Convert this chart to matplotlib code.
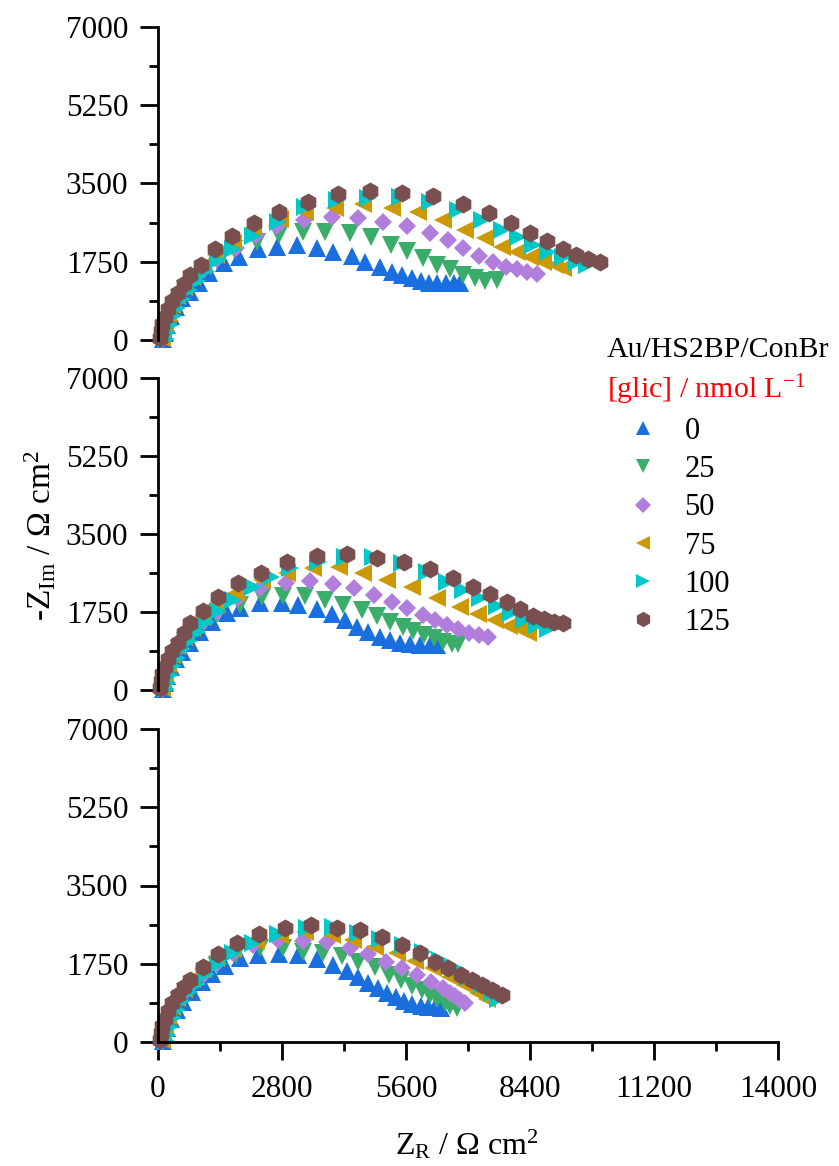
import matplotlib
matplotlib.use("Agg")
import matplotlib.pyplot as plt
from matplotlib.lines import Line2D
from matplotlib.ticker import MultipleLocator

plt.rcParams['font.family'] = ['Liberation Serif', 'DejaVu Serif']
plt.rcParams['mathtext.fontset'] = 'custom'
plt.rcParams['mathtext.rm'] = 'Liberation Serif'
plt.rcParams['mathtext.it'] = 'Liberation Serif:italic'

# Concentrations of glycated protein (nmol/L)
concentrations = ["0", "25", "50", "75", "100", "125"]

# ---------- Panel 1 (top) ----------
zr_top_0 = [120, 150, 200, 290, 400, 534, 722, 933, 1159, 1490, 1836, 2251, 2695, 3131, 3583, 3959, 4373, 4674, 5013, 5276, 5502, 5728, 5931, 6127, 6307, 6496, 6684, 6819]
zi_top_0 = [20, 150, 330, 540, 740, 932, 1081, 1283, 1491, 1715, 1849, 2036, 2088, 2125, 2051, 1976, 1879, 1752, 1640, 1528, 1454, 1380, 1320, 1283, 1268, 1268, 1268, 1268]
zr_top_25 = [110, 140, 190, 260, 350, 470, 620, 800, 1030, 1330, 1720, 2228, 2740, 3281, 3771, 4335, 4802, 5254, 5630, 5991, 6307, 6593, 6894, 7158, 7384, 7648]
zi_top_25 = [30, 170, 360, 560, 760, 950, 1140, 1340, 1560, 1800, 2030, 2199, 2349, 2423, 2423, 2386, 2297, 2125, 1998, 1827, 1678, 1581, 1454, 1380, 1327, 1342]
zr_top_50 = [100, 130, 180, 250, 340, 460, 610, 800, 1040, 1340, 1761, 2213, 2680, 3297, 3922, 4523, 5088, 5630, 6142, 6555, 6894, 7256, 7572, 7858, 8099, 8325, 8551]
zi_top_50 = [30, 170, 360, 560, 760, 950, 1150, 1360, 1580, 1810, 2051, 2349, 2550, 2684, 2758, 2722, 2647, 2550, 2386, 2237, 2051, 1879, 1752, 1640, 1581, 1528, 1476]
zr_top_75 = [90, 120, 165, 230, 320, 430, 580, 770, 1010, 1320, 1700, 2152, 2755, 3319, 3997, 4636, 5276, 5878, 6443, 6932, 7384, 7761, 8099, 8400, 8700, 8964, 9152]
zi_top_75 = [40, 190, 380, 580, 780, 980, 1190, 1410, 1650, 1900, 2160, 2500, 2700, 2870, 2946, 3042, 2946, 2870, 2684, 2461, 2275, 2088, 1976, 1864, 1752, 1678, 1603]
zr_top_100 = [180, 210, 260, 330, 420, 540, 690, 870, 1090, 1360, 1700, 2150, 2700, 3319, 4035, 4749, 5464, 6142, 6781, 7309, 7761, 8136, 8475, 8813, 9152, 9454, 9680]
zi_top_100 = [20, 160, 340, 530, 720, 910, 1110, 1320, 1540, 1780, 2040, 2330, 2640, 2980, 3132, 3170, 3206, 3094, 2908, 2684, 2461, 2297, 2125, 1976, 1864, 1752, 1678]
zr_top_125 = [50, 70, 100, 150, 220, 320, 450, 580, 722, 964, 1287, 1664, 2175, 2740, 3380, 4071, 4787, 5502, 6202, 6880, 7474, 7971, 8400, 8776, 9137, 9438, 9717, 9980]
zi_top_125 = [50, 200, 360, 520, 700, 880, 1060, 1260, 1454, 1678, 2029, 2326, 2624, 2870, 3094, 3266, 3340, 3281, 3228, 3042, 2834, 2610, 2401, 2222, 2036, 1901, 1805, 1738]

# ---------- Panel 2 (middle) ----------
zr_mid_0 = [120, 150, 200, 290, 400, 535, 722, 948, 1212, 1551, 1852, 2303, 2793, 3169, 3583, 3922, 4222, 4486, 4749, 5013, 5239, 5464, 5690, 5916, 6142, 6293]
zi_mid_0 = [20, 150, 320, 510, 690, 860, 1062, 1309, 1533, 1720, 1833, 1945, 1960, 1907, 1810, 1698, 1571, 1421, 1309, 1197, 1122, 1062, 1032, 1010, 1010, 1010]
zr_mid_25 = [110, 140, 190, 260, 350, 470, 620, 800, 1030, 1330, 1852, 2341, 2830, 3319, 3771, 4184, 4599, 4937, 5239, 5525, 5765, 6006, 6232, 6443, 6631, 6781]
zi_mid_25 = [30, 170, 350, 540, 730, 920, 1110, 1300, 1500, 1700, 1907, 2094, 2109, 2109, 2020, 1907, 1795, 1661, 1533, 1421, 1324, 1234, 1159, 1085, 1032, 1032]
zr_mid_50 = [100, 130, 180, 250, 340, 460, 610, 800, 1040, 1340, 1814, 2303, 2890, 3432, 3944, 4426, 4877, 5276, 5630, 5976, 6255, 6533, 6781, 7030, 7256, 7459]
zi_mid_50 = [30, 170, 350, 540, 740, 930, 1120, 1320, 1540, 1780, 2057, 2281, 2408, 2446, 2379, 2281, 2132, 1982, 1833, 1683, 1571, 1459, 1362, 1287, 1234, 1197]
zr_mid_75 = [90, 120, 165, 230, 320, 430, 580, 770, 1010, 1320, 1750, 2341, 2906, 3507, 4094, 4636, 5178, 5728, 6307, 6819, 7233, 7610, 7933, 8174, 8362]
zi_mid_75 = [40, 190, 380, 580, 780, 980, 1180, 1400, 1640, 1900, 2180, 2468, 2618, 2730, 2767, 2618, 2468, 2318, 2057, 1855, 1705, 1571, 1436, 1362, 1287]
zr_mid_100 = [180, 210, 260, 330, 420, 540, 690, 870, 1090, 1360, 1700, 2150, 2560, 2981, 3620, 4222, 4862, 5502, 6067, 6518, 6894, 7264, 7648, 7964, 8264, 8551, 8813]
zi_mid_100 = [20, 160, 340, 530, 720, 910, 1110, 1310, 1530, 1770, 2020, 2300, 2540, 2730, 2879, 2977, 2977, 2842, 2655, 2431, 2244, 2057, 1885, 1720, 1571, 1459, 1362]
zr_mid_125 = [50, 70, 100, 150, 220, 320, 450, 580, 722, 1009, 1362, 1814, 2318, 2920, 3597, 4275, 4952, 5555, 6142, 6654, 7106, 7497, 7873, 8174, 8460, 8716, 8942, 9152]
zi_mid_125 = [50, 200, 360, 520, 700, 880, 1060, 1270, 1496, 1780, 2094, 2393, 2633, 2879, 3007, 3052, 2955, 2879, 2708, 2506, 2318, 2154, 1982, 1810, 1661, 1586, 1533, 1496]

# ---------- Panel 3 (bottom) ----------
zr_bot_0 = [120, 150, 200, 290, 421, 572, 760, 986, 1212, 1513, 1852, 2265, 2740, 3169, 3583, 3944, 4260, 4523, 4749, 4975, 5178, 5374, 5555, 5743, 5931, 6104, 6255, 6380]
zi_bot_0 = [20, 150, 320, 510, 716, 902, 1126, 1349, 1521, 1700, 1872, 1946, 1969, 1946, 1849, 1722, 1595, 1461, 1312, 1200, 1089, 999, 924, 860, 815, 790, 775, 770]
zr_bot_25 = [110, 140, 190, 260, 350, 470, 620, 800, 1030, 1330, 1760, 2303, 2830, 3281, 3733, 4148, 4523, 4900, 5223, 5480, 5728, 5954, 6142, 6307, 6480, 6593, 6744]
zi_bot_25 = [30, 170, 350, 540, 730, 920, 1110, 1300, 1500, 1720, 1950, 2096, 2096, 2020, 1990, 1930, 1796, 1671, 1499, 1387, 1253, 1163, 1051, 955, 870, 800, 770]
zr_bot_50 = [100, 130, 180, 250, 340, 460, 610, 800, 1040, 1340, 1700, 2152, 2717, 3267, 3809, 4335, 4749, 5148, 5502, 5841, 6157, 6443, 6600, 6706, 6820, 6932]
zi_bot_50 = [30, 170, 350, 540, 740, 930, 1120, 1320, 1530, 1760, 1980, 2170, 2282, 2267, 2230, 2096, 1969, 1796, 1648, 1499, 1349, 1200, 1100, 1030, 950, 880]
zr_bot_75 = [90, 120, 165, 230, 320, 430, 580, 770, 1010, 1320, 1700, 2213, 2755, 3319, 3922, 4410, 4900, 5389, 5803, 6217, 6593, 6932, 7233, 7422]
zi_bot_75 = [40, 190, 380, 580, 780, 980, 1180, 1400, 1630, 1870, 2080, 2260, 2400, 2468, 2400, 2282, 2133, 1998, 1819, 1648, 1461, 1275, 1089, 960]
zr_bot_100 = [180, 210, 260, 330, 420, 540, 690, 870, 1090, 1360, 1700, 2150, 2700, 3357, 3944, 4523, 5013, 5539, 5991, 6368, 6706, 7007, 7309, 7535, 7685]
zi_bot_100 = [20, 160, 340, 530, 720, 910, 1110, 1300, 1510, 1740, 1980, 2220, 2420, 2543, 2580, 2431, 2297, 2170, 2020, 1834, 1648, 1461, 1275, 1089, 955]
zr_bot_125 = [50, 70, 100, 150, 220, 320, 450, 580, 722, 1009, 1362, 1791, 2288, 2868, 3447, 4035, 4561, 5050, 5517, 5916, 6255, 6555, 6835, 7083, 7309, 7535, 7761]
zi_bot_125 = [50, 200, 360, 520, 700, 880, 1060, 1220, 1387, 1671, 1969, 2207, 2409, 2543, 2617, 2557, 2505, 2342, 2170, 1984, 1796, 1648, 1499, 1387, 1275, 1163, 1051]

# Axis ticks
x_ticks = [0, 2800, 5600, 8400, 11200, 14000]
y_ticks = [0, 1750, 3500, 5250, 7000]

panels = [
    [(zr_top_0, zi_top_0), (zr_top_25, zi_top_25), (zr_top_50, zi_top_50),
     (zr_top_75, zi_top_75), (zr_top_100, zi_top_100), (zr_top_125, zi_top_125)],
    [(zr_mid_0, zi_mid_0), (zr_mid_25, zi_mid_25), (zr_mid_50, zi_mid_50),
     (zr_mid_75, zi_mid_75), (zr_mid_100, zi_mid_100), (zr_mid_125, zi_mid_125)],
    [(zr_bot_0, zi_bot_0), (zr_bot_25, zi_bot_25), (zr_bot_50, zi_bot_50),
     (zr_bot_75, zi_bot_75), (zr_bot_100, zi_bot_100), (zr_bot_125, zi_bot_125)],
]

colors = ['#1a6fdf', '#3aad6a', '#b27ede', '#cc9900', '#00c8c8', '#7a4f4f']
markers = ['^', 'v', 'D', '<', '>', 'h']
msizes = [12.5, 12.5, 9, 12.5, 12.5, 13]

fig = plt.figure(figsize=(8.39, 11.66), dpi=100)

left, right = 158 / 839, 778 / 839
panel_px = [(27, 340), (378, 690), (729, 1042)]
H = 1166
axes = []
for (ptop, pbot) in panel_px:
    ax = fig.add_axes([left, 1 - pbot / H, right - left, (pbot - ptop) / H])
    axes.append(ax)

for i, (ax, series) in enumerate(zip(axes, panels)):
    for (zr, zi), c, m, ms in zip(series, colors, markers, msizes):
        ax.plot(zr, zi, linestyle='none', marker=m, markersize=ms,
                color=c, markeredgewidth=0, clip_on=False)
    ax.set_xlim(0, 14000)
    ax.set_ylim(0, 7000)
    ax.spines['top'].set_visible(False)
    ax.spines['right'].set_visible(False)
    ax.spines['left'].set_linewidth(2)
    ax.spines['bottom'].set_linewidth(2)
    ax.set_yticks(y_ticks)
    ax.set_yticklabels([str(v) for v in y_ticks])
    ax.yaxis.set_minor_locator(MultipleLocator(875))
    ax.tick_params(axis='y', which='major', direction='out', length=13, width=2,
                   labelsize=22.5, pad=8.5)
    ax.tick_params(axis='y', which='minor', direction='out', length=6.5, width=2)
    ax.set_facecolor('none')
    if i < 2:
        ax.spines['bottom'].set_visible(False)
        ax.tick_params(axis='x', which='both', bottom=False, labelbottom=False)
    else:
        ax.set_xticks(x_ticks)
        ax.set_xticklabels([str(v) for v in x_ticks])
        ax.xaxis.set_minor_locator(MultipleLocator(1400))
        ax.tick_params(axis='x', which='major', direction='out', length=13, width=2,
                       labelsize=22.5, pad=11)
        ax.tick_params(axis='x', which='minor', direction='out', length=6.5, width=2)

fig.text(467 / 839, 1 - 1145 / H, r'Z$_{\mathrm{R}}$ / Ω cm$^{2}$', ha='center', va='center',
         fontsize=23)
fig.text(40 / 839, 1 - 535 / H, r'-Z$_{\mathrm{Im}}$ / Ω cm$^{2}$', ha='center', va='center',
         rotation=90, fontsize=24)

# Legend
fig.text(607 / 839, 1 - 350 / H, 'Au/HS2BP/ConBr', ha='left', va='center', fontsize=21.5)
fig.text(607 / 839, 1 - 390 / H, r'[glic] / nmol L$^{\mathrm{-1}}$', ha='left', va='center',
         fontsize=21.5, color='red')
handles = [Line2D([], [], linestyle='none', marker=m, color=c, markeredgewidth=0,
                  markersize=ms * 0.85)
           for c, m, ms in zip(colors, markers, msizes)]
fig.legend(handles, concentrations, loc='upper left',
           bbox_to_anchor=(625 / 839, 1 - 417 / H), frameon=False, fontsize=22,
           handlelength=1.2, handletextpad=0.75, labelspacing=0.30, borderpad=0,
           borderaxespad=0)

fig.savefig('out.png', dpi=100)
